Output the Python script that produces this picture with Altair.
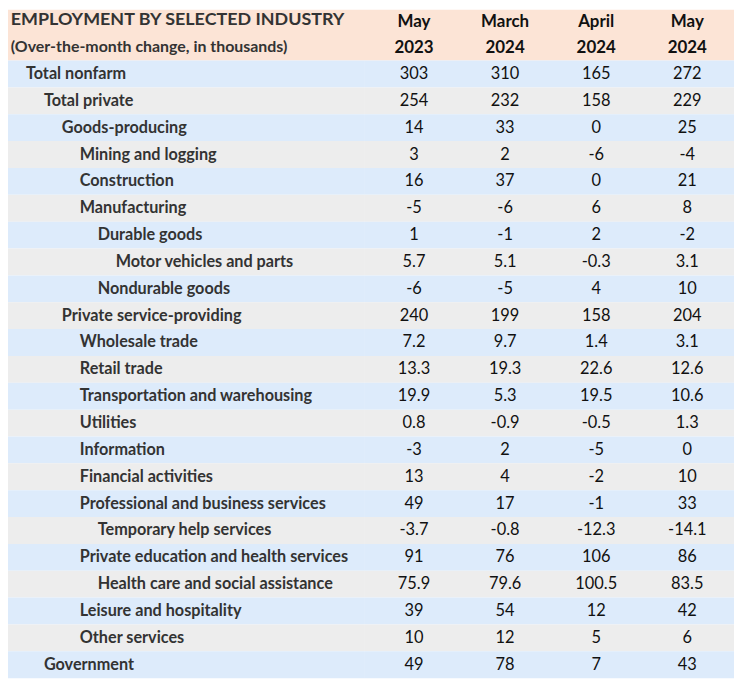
import altair as alt
import pandas as pd

# ---------------- data ----------------
labels = [
    "Total nonfarm", "Total private", "Goods-producing", "Mining and logging",
    "Construction", "Manufacturing", "Durable goods", "Motor vehicles and parts",
    "Nondurable goods", "Private service-providing", "Wholesale trade",
    "Retail trade", "Transportation and warehousing", "Utilities", "Information",
    "Financial activities", "Professional and business services",
    "Temporary help services", "Private education and health services",
    "Health care and social assistance", "Leisure and hospitality",
    "Other services", "Government",
]
levels = [0, 1, 2, 3, 3, 3, 4, 5, 4, 2, 3, 3, 3, 3, 3, 3, 3, 4, 3, 4, 3, 3, 1]
may_2023 = ["303", "254", "14", "3", "16", "-5", "1", "5.7", "-6", "240", "7.2",
            "13.3", "19.9", "0.8", "-3", "13", "49", "-3.7", "91", "75.9", "39",
            "10", "49"]
mar_2024 = ["310", "232", "33", "2", "37", "-6", "-1", "5.1", "-5", "199", "9.7",
            "19.3", "5.3", "-0.9", "2", "4", "17", "-0.8", "76", "79.6", "54",
            "12", "78"]
apr_2024 = ["165", "158", "0", "-6", "0", "6", "2", "-0.3", "4", "158", "1.4",
            "22.6", "19.5", "-0.5", "-5", "-2", "-1", "-12.3", "106", "100.5", "12",
            "5", "7"]
may_2024 = ["272", "229", "25", "-4", "21", "8", "-2", "3.1", "10", "204", "3.1",
            "12.6", "10.6", "1.3", "0", "10", "33", "-14.1", "86", "83.5", "42",
            "6", "43"]
col_month = ["May", "March", "April", "May"]
col_year = ["2023", "2024", "2024", "2024"]
title_text = "EMPLOYMENT BY SELECTED INDUSTRY"
subtitle_text = "(Over-the-month change, in thousands)"

# ---------------- layout ----------------
N = len(labels)
LABEL_W = 3.85          # width of label column in value-column units
HEAD = 51 / 27          # header height in row units
FONT = "Lato"
series = [may_2023, mar_2024, apr_2024, may_2024]

rows = pd.DataFrame({"row": list(range(N)), "label": labels, "level": levels})
rows["y0"] = rows["row"]
rows["y1"] = rows["row"] + 1
rows["ym"] = rows["row"] + 0.5
rows["parity"] = rows["row"] % 2
rows["lx0"] = 0.0
rows["lx1"] = LABEL_W
rows["vx1"] = LABEL_W + 4
rows["tx"] = 0.194 * (rows["level"] + 1)

cells = []
for j, s in enumerate(series):
    for i, v in enumerate(s):
        cells.append({"row": i, "col": j, "text": v})
cells = pd.DataFrame(cells)
cells["x"] = LABEL_W + 0.54 + cells["col"] * 0.985
cells["y"] = cells["row"] + 0.5

heads = pd.DataFrame({"col": list(range(4)), "month": col_month, "year": col_year})
heads["x"] = LABEL_W + 0.54 + heads["col"] * 0.985
heads["ym"] = -HEAD * 0.765
heads["yy"] = -HEAD * 0.255

hdr = pd.DataFrame({"x0": [0.0], "x1": [LABEL_W + 4], "y0": [-HEAD], "y1": [0.0],
                    "title": [title_text], "sub": [subtitle_text],
                    "tx": [0.03], "yt": [-HEAD * 0.80], "ys": [-HEAD * 0.275]})

xs = alt.Scale(domain=[0, LABEL_W + 4], nice=False, zero=False)
ys = alt.Scale(domain=[-HEAD, N], nice=False, zero=False, reverse=True)

def X(f):
    return alt.X(f, type="quantitative", scale=xs, axis=None)

def Y(f):
    return alt.Y(f, type="quantitative", scale=ys, axis=None)

header_bg = alt.Chart(hdr).mark_rect(color="#FCE4D6").encode(
    x=X("x0"), x2="x1", y=Y("y0"), y2="y1")

lab_scale = alt.Scale(domain=[0, 1], range=["#DDEBFB", "#EDEDED"])
val_scale = alt.Scale(domain=[0, 1], range=["#EEF4FF", "#FFFFFF"])

label_bg = alt.Chart(rows).mark_rect().encode(
    x=X("lx0"), x2="lx1", y=Y("y0"), y2="y1",
    color=alt.Color("parity:N", scale=lab_scale, legend=None))

value_bg = alt.Chart(rows).mark_rect().encode(
    x=X("lx1"), x2="vx1", y=Y("y0"), y2="y1",
    color=alt.Color("parity:N", scale=val_scale, legend=None))

title_t = alt.Chart(hdr).mark_text(align="left", baseline="middle", font=FONT,
                                   fontWeight="bold", fontSize=18, color="#333333").encode(
    x=X("tx"), y=Y("yt"), text="title:N")
sub_t = alt.Chart(hdr).mark_text(align="left", baseline="middle", font=FONT,
                                 fontWeight="bold", fontSize=16, color="#333333").encode(
    x=X("tx"), y=Y("ys"), text="sub:N")
month_t = alt.Chart(heads).mark_text(align="center", baseline="middle", font=FONT,
                                     fontWeight="bold", fontSize=17, color="#111111").encode(
    x=X("x"), y=Y("ym"), text="month:N")
year_t = alt.Chart(heads).mark_text(align="center", baseline="middle", font=FONT,
                                    fontWeight="bold", fontSize=17, color="#111111").encode(
    x=X("x"), y=Y("yy"), text="year:N")

label_t = alt.Chart(rows).mark_text(align="left", baseline="middle", font=FONT,
                                    fontWeight="bold", fontSize=16.3, color="#333333").encode(
    x=X("tx"), y=Y("ym"), text="label:N")
value_t = alt.Chart(cells).mark_text(align="center", baseline="middle", font=FONT,
                                     fontSize=16.5, color="#111111").encode(
    x=X("x"), y=Y("y"), text="text:N")

chart = alt.layer(header_bg, label_bg, value_bg, title_t, sub_t, month_t, year_t,
                  label_t, value_t).properties(
    width=730, height=672,
    autosize=alt.AutoSizeParams(type="none"),
    padding=0,
    background="#FFFFFF",
).configure_view(stroke=None)

chart.save("out.html", embed_options={"renderer": "svg", "actions": False})
